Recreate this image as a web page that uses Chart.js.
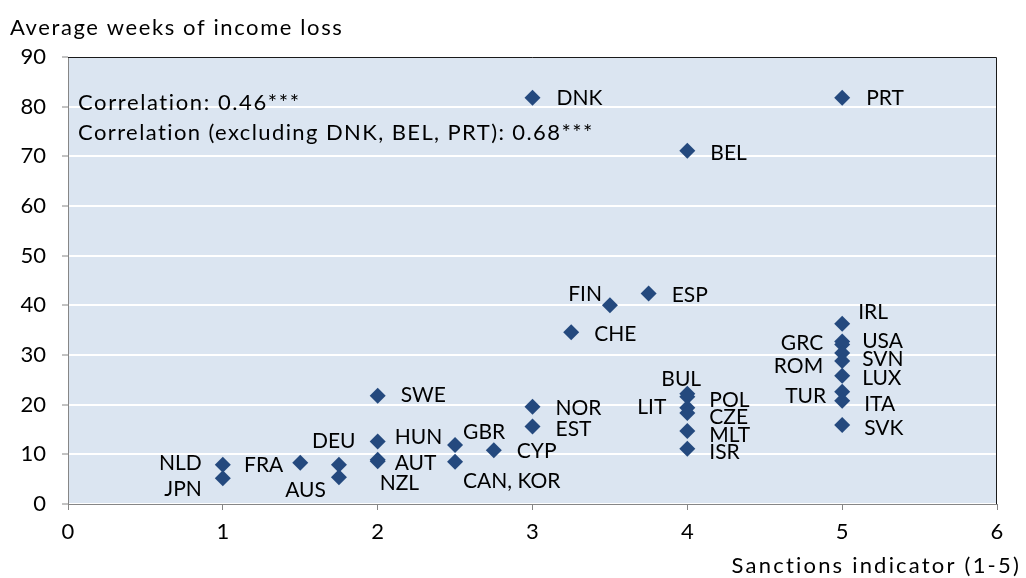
<!DOCTYPE html>
<html>
<head>
<meta charset="utf-8">
<script src="https://cdn.jsdelivr.net/npm/chart.js@4.4.0/dist/chart.umd.min.js"></script>
<style>
  html, body { margin: 0; padding: 0; background: #fff; }
</style>
</head>
<body>
<canvas id="scatterChart" width="1026" height="578"></canvas>
<script>
// values
const countries = ['DNK','PRT','BEL','FIN','ESP','CHE','IRL','GRC','USA','SVN','ROM','LUX','TUR','ITA','SVK',
  'BUL','POL','LIT','CZE','MLT','ISR','NOR','EST','CYP','GBR','CAN, KOR','SWE','HUN','AUT','NZL','DEU','AUS','FRA','NLD','JPN'];
const sanctions = [3,5,4,3.5,3.75,3.25,5,5,5,5,5,5,5,5,5,
  4,4,4,4,4,4,3,3,2.75,2.5,2.5,2,2,2,2,1.75,1.75,1.5,1,1];
const weeks = [81.8,81.8,71.1,40.0,42.4,34.6,36.3,32.7,32.1,30.4,28.8,25.8,22.6,20.8,15.9,
  22.2,21.6,19.4,18.3,14.7,11.1,19.6,15.6,10.8,11.9,8.5,21.8,12.6,8.9,8.6,7.9,5.4,8.3,7.9,5.2];
const xTicks = [0,1,2,3,4,5,6];
const yTicks = [0,10,20,30,40,50,60,70,80,90];

const yTitle = 'Average weeks of income loss';
const xTitle = 'Sanctions indicator (1-5)';
const notes = ['Correlation: 0.46***', 'Correlation (excluding DNK, BEL, PRT): 0.68***'];

// where each country label sits relative to its marker: [dx, dy, align]
const labelPlace = [[24,1,'left'],[24,1,'left'],[23,2,'left'],[-8,-11,'right'],[23,2,'left'],[23,2,'left'],
  [16,-11,'left'],[-19,2,'right'],[20,-3,'left'],[20,6,'left'],[-19,5,'right'],[20,2,'left'],[-16,4,'right'],
  [22,4,'left'],[22,3,'left'],
  [-26,-15,'left'],[22,4,'left'],[-21,0,'right'],[22,4,'left'],[22,4,'left'],[22,3,'left'],
  [23,2,'left'],[23,3,'left'],[23,1,'left'],[8,-13,'left'],[8,19,'left'],[23,0,'left'],[17,-4,'left'],
  [17,3,'left'],[2,22,'left'],[-27,-24,'left'],[-13,13,'right'],[-17,2,'right'],[-21,-2,'right'],[-21,11,'right']];

const FONT = 'Lato, "Liberation Sans", sans-serif';
const MARK = '#24497e';
const AXIS = '#868686';

const plotBg = {
  id: 'plotBg',
  beforeDraw(chart){
    const {ctx, chartArea:a} = chart;
    ctx.save();
    ctx.fillStyle = '#dbe5f1';
    ctx.fillRect(a.left, a.top, a.right-a.left, a.bottom-a.top);
    ctx.restore();
  },
  beforeDatasetsDraw(chart){
    const {ctx, chartArea:a} = chart;
    ctx.save();
    ctx.strokeStyle = '#1a1a1a';
    ctx.lineWidth = 1;
    ctx.beginPath();
    ctx.moveTo(a.left, a.top+0.5); ctx.lineTo(a.right-0.5, a.top+0.5); ctx.lineTo(a.right-0.5, a.bottom);
    ctx.stroke();
    ctx.restore();
  }
};

function spaced(ctx, text, x, y, spacing){
  ctx.letterSpacing = spacing + 'px';
  ctx.fillText(text, x, y);
  ctx.letterSpacing = '0px';
}

const textLayer = {
  id: 'textLayer',
  afterDatasetsDraw(chart){
    const {ctx} = chart;
    const meta = chart.getDatasetMeta(0);
    ctx.save();
    ctx.fillStyle = '#000';
    ctx.textBaseline = 'middle';
    ctx.font = '21px ' + FONT;
    meta.data.forEach((pt, i)=>{
      const p = labelPlace[i];
      ctx.textAlign = p[2];
      ctx.fillText(countries[i], pt.x + p[0], pt.y + p[1]);
    });
    ctx.font = '22px ' + FONT;
    ctx.textAlign = 'left';
    spaced(ctx, notes[0], 78, 103, 1.6);
    spaced(ctx, notes[1], 78, 133, 1.4);
    spaced(ctx, yTitle, 10, 28, 1.6);
    ctx.textAlign = 'right';
    spaced(ctx, xTitle, 1021, 566, 2.2);
    ctx.restore();
  }
};

new Chart(document.getElementById('scatterChart'), {
  type: 'scatter',
  data: {
    datasets: [{
      data: countries.map((c, i) => ({x: sanctions[i], y: weeks[i]})),
      backgroundColor: MARK,
      borderColor: MARK,
      borderWidth: 0,
      pointStyle: 'rectRot',
      pointRadius: 8,
      pointHoverRadius: 8
    }]
  },
  options: {
    responsive: false,
    animation: false,
    devicePixelRatio: 1,
    layout: { padding: { top: 57, right: 29, left: 0, bottom: 0 } },
    plugins: { legend: { display: false }, tooltip: { enabled: false } },
    scales: {
      x: {
        type: 'linear', min: 0, max: 6,
        afterFit(s){ s.height = 74; },
        afterBuildTicks(s){ s.ticks = xTicks.map(v => ({value: v})); },
        grid: { drawOnChartArea: false, drawTicks: true, tickLength: 6, tickColor: AXIS, z: -1 },
        border: { color: AXIS, width: 1 },
        ticks: { color: '#000', padding: 9, font: { family: FONT, size: 22 } }
      },
      y: {
        type: 'linear', min: 0, max: 90,
        afterFit(s){ s.width = 68; },
        afterBuildTicks(s){ s.ticks = yTicks.map(v => ({value: v})); },
        grid: { color: '#ffffff', lineWidth: 2, tickColor: AXIS, tickLength: 6, tickWidth: 1, z: -1 },
        border: { color: AXIS, width: 1 },
        ticks: { color: '#000', padding: 16, font: { family: FONT, size: 22 } }
      }
    }
  },
  plugins: [plotBg, textLayer]
});
</script>
</body>
</html>
